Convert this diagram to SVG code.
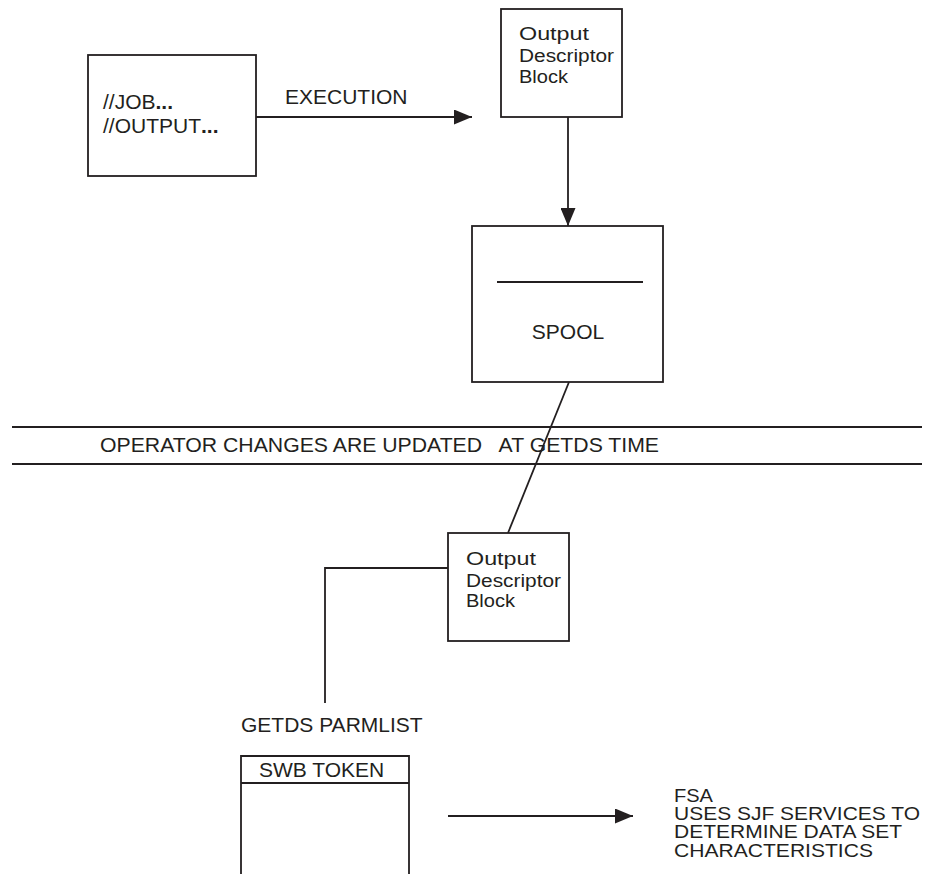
<svg xmlns="http://www.w3.org/2000/svg" width="926" height="874" viewBox="0 0 926 874">
<style>
.box{fill:#fff;stroke:#231f20;stroke-width:1.8}
.ln{fill:none;stroke:#231f20;stroke-width:1.8}
.t{font-family:"Liberation Sans",Arial,sans-serif;font-size:21px;fill:#231f20}
.c{font-family:"Liberation Sans",Arial,sans-serif;font-size:18px;fill:#231f20}
.f{font-family:"Liberation Sans",Arial,sans-serif;font-size:18.5px;fill:#231f20}
</style>
<defs>
<marker id="ah" markerUnits="userSpaceOnUse" markerWidth="18" markerHeight="15" refX="18" refY="7.5" orient="auto">
<path d="M0,0 L18,7.5 L0,15 z" fill="#231f20"/>
</marker>
</defs>
<g id="connectors">
<line class="ln" x1="256" y1="117" x2="472" y2="117" marker-end="url(#ah)"/>
<line class="ln" x1="568" y1="117" x2="568" y2="226" marker-end="url(#ah)"/>
<line class="ln" x1="569" y1="382" x2="508" y2="533"/>
<polyline class="ln" points="448,568 325,568 325,703"/>
<line class="ln" x1="448" y1="816" x2="633" y2="816" marker-end="url(#ah)"/>
</g>
<g id="job">
<rect class="box" x="88" y="55" width="168" height="121"/>
<text class="t" x="103" y="109">//JOB<tspan font-weight="bold">...</tspan></text>
<text class="t" x="103" y="133">//OUTPUT<tspan font-weight="bold">...</tspan></text>
</g>
<g id="execution-label">
<text class="t" x="285" y="104">EXECUTION</text>
</g>
<g id="odb1">
<rect class="box" x="501" y="9" width="121" height="108"/>
<text class="c" x="519" y="40" textLength="70" lengthAdjust="spacingAndGlyphs">Output</text>
<text class="c" x="519" y="62" textLength="95" lengthAdjust="spacingAndGlyphs">Descriptor</text>
<text class="c" x="519" y="83" textLength="49" lengthAdjust="spacingAndGlyphs">Block</text>
</g>
<g id="spool">
<rect class="box" x="472" y="226" width="191" height="156"/>
<line class="ln" x1="497" y1="282" x2="643" y2="282"/>
<text class="t" x="568" y="339" text-anchor="middle">SPOOL</text>
</g>
<g id="operator-band">
<line class="ln" x1="12" y1="427" x2="922" y2="427"/>
<line class="ln" x1="12" y1="464" x2="922" y2="464"/>
<text class="t" x="100" y="452" textLength="559" lengthAdjust="spacingAndGlyphs" xml:space="preserve">OPERATOR CHANGES ARE UPDATED   AT GETDS TIME</text>
</g>
<g id="odb2">
<rect class="box" x="448" y="533" width="121" height="108"/>
<text class="c" x="466" y="565" textLength="70" lengthAdjust="spacingAndGlyphs">Output</text>
<text class="c" x="466" y="587" textLength="95" lengthAdjust="spacingAndGlyphs">Descriptor</text>
<text class="c" x="466" y="607" textLength="49" lengthAdjust="spacingAndGlyphs">Block</text>
</g>
<g id="parmlist">
<text class="t" x="241" y="732">GETDS PARMLIST</text>
</g>
<g id="swb">
<path class="ln" d="M241,876 L241,756 L409,756 L409,876"/>
<line class="ln" x1="241" y1="783" x2="409" y2="783"/>
<text class="t" x="259" y="777">SWB TOKEN</text>
</g>
<g id="fsa">
<text class="f" x="674" y="802" textLength="39" lengthAdjust="spacingAndGlyphs">FSA</text>
<text class="f" x="674" y="820" textLength="246" lengthAdjust="spacingAndGlyphs">USES SJF SERVICES TO</text>
<text class="f" x="674" y="838" textLength="228" lengthAdjust="spacingAndGlyphs">DETERMINE DATA SET</text>
<text class="f" x="674" y="857" textLength="199" lengthAdjust="spacingAndGlyphs">CHARACTERISTICS</text>
</g>
</svg>
